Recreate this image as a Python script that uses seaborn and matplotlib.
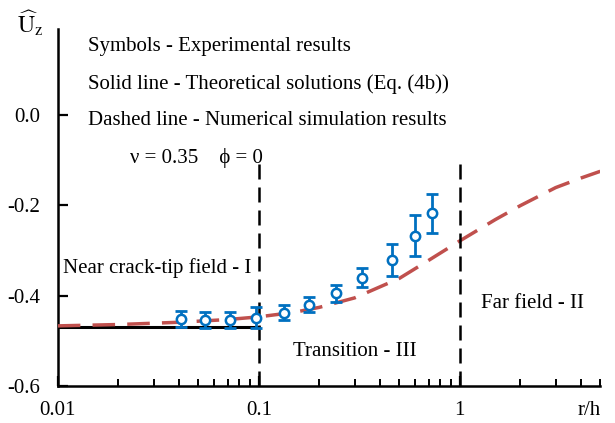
import numpy as np
import pandas as pd
import matplotlib
matplotlib.use("Agg")
import matplotlib.pyplot as plt
import seaborn as sns
from matplotlib.ticker import FixedLocator, FixedFormatter, LogLocator, NullFormatter

# Experimental results (symbols with error bars)
exp_r = [0.041, 0.054, 0.072, 0.097, 0.133, 0.178, 0.243, 0.326, 0.459, 0.596, 0.727]
exp_u = [-0.452, -0.454, -0.454, -0.449, -0.438, -0.420, -0.395, -0.361, -0.321, -0.267, -0.218]
exp_err = [0.017, 0.018, 0.018, 0.023, 0.017, 0.016, 0.019, 0.021, 0.036, 0.046, 0.043]

# Numerical simulation results (dashed curve)
num_r = [0.01, 0.02, 0.04, 0.07, 0.1, 0.15, 0.2, 0.3, 0.5, 0.7, 1.0, 1.5, 2.0, 3.0, 4.0, 5.0]
num_u = [-0.467, -0.464, -0.459, -0.453, -0.447, -0.437, -0.426, -0.405, -0.362, -0.322,
         -0.279, -0.232, -0.201, -0.161, -0.140, -0.125]

# Theoretical solution in the near crack-tip field (solid line)
theo_r = [0.01, 0.1]
theo_u = [-0.470, -0.470]

# Field boundaries
bound_r = [0.1, 1.0]

y_ticks = [0.0, -0.2, -0.4, -0.6]
y_labels = ["0.0", "-0.2", "-0.4", "-0.6"]
x_ticks = [0.01, 0.1, 1]
x_labels = ["0.01", "0.1", "1"]

sns.set_theme(style="white")
plt.rcParams["font.family"] = ["Liberation Serif", "DejaVu Serif"]
plt.rcParams["mathtext.fontset"] = "stix"
plt.rcParams["axes.unicode_minus"] = False
plt.rcParams["text.color"] = "black"

fig = plt.figure(figsize=(6.15, 4.23), dpi=100)
ax = fig.add_axes([0.094, 0.0875, 0.882, 0.844])

blue = "#0070C0"
red = "#C0504D"

num_df = pd.DataFrame({"r": num_r, "u": num_u})
sns.lineplot(data=num_df, x="r", y="u", ax=ax, color=red, lw=2.5,
             dashes=False, zorder=3)
ax.lines[-1].set_dashes([6.5, 3.5])

theo_df = pd.DataFrame({"r": theo_r, "u": theo_u})
sns.lineplot(data=theo_df, x="r", y="u", ax=ax, color="black", lw=2.2, zorder=2)

for xb in bound_r:
    ax.plot([xb, xb], [-0.6, -0.105], color="black", lw=1.8,
            dashes=[6, 3.2], zorder=4)

ax.errorbar(exp_r, exp_u, yerr=exp_err, fmt="none", ecolor=blue,
            elinewidth=2, capsize=4, capthick=2, zorder=5)
exp_df = pd.DataFrame({"r": exp_r, "u": exp_u})
sns.scatterplot(data=exp_df, x="r", y="u", ax=ax, marker="o", s=45,
                facecolor="white", edgecolor=blue, linewidth=1.8, zorder=6)

ax.set_xscale("log")
ax.set_xlim(0.01, 5.0)
ax.set_ylim(-0.6, 0.19)

ax.xaxis.set_major_locator(FixedLocator(x_ticks))
ax.xaxis.set_major_formatter(FixedFormatter(x_labels))
ax.xaxis.set_minor_locator(LogLocator(base=10, subs=np.arange(2, 10)))
ax.xaxis.set_minor_formatter(NullFormatter())
ax.yaxis.set_major_locator(FixedLocator(y_ticks))
ax.yaxis.set_major_formatter(FixedFormatter(y_labels))

ax.tick_params(axis="both", which="major", direction="in", length=7, width=1.6,
               labelsize=15, colors="black", bottom=True, left=True)
ax.tick_params(axis="x", which="minor", direction="in", length=5, width=1.4,
               bottom=True, colors="black")
ax.tick_params(axis="x", pad=11)
ax.tick_params(axis="y", pad=13)

for side in ["top", "right"]:
    ax.spines[side].set_visible(False)
for side in ["left", "bottom"]:
    ax.spines[side].set_color("black")
    ax.spines[side].set_linewidth(1.8)

ax.set_xlabel("")
ax.set_ylabel("")

fs = 15
fig.text(0.028, 0.945, r"$\widehat{\mathrm{U}}_\mathrm{z}$", fontsize=17, ha="left", va="center")
fig.text(0.977, 0.03, "r/h", fontsize=fs, ha="right", va="center")

ax.text(0.143, 0.889, "Symbols - Experimental results", transform=fig.transFigure,
        fontsize=fs, va="center")
ax.text(0.143, 0.802, "Solid line - Theoretical solutions (Eq. (4b))",
        transform=fig.transFigure, fontsize=fs, va="center")
ax.text(0.143, 0.716, "Dashed line - Numerical simulation results",
        transform=fig.transFigure, fontsize=fs, va="center")
ax.text(0.212, 0.626, "\u03bd = 0.35    \u03d5 = 0", transform=fig.transFigure,
        fontsize=fs, va="center")
ax.text(0.102, 0.366, "Near crack-tip field - I", transform=fig.transFigure,
        fontsize=fs, va="center")
ax.text(0.476, 0.168, "Transition - III", transform=fig.transFigure,
        fontsize=fs, va="center")
ax.text(0.782, 0.282, "Far field - II", transform=fig.transFigure,
        fontsize=fs, va="center")

fig.savefig("out.png", dpi=100)
